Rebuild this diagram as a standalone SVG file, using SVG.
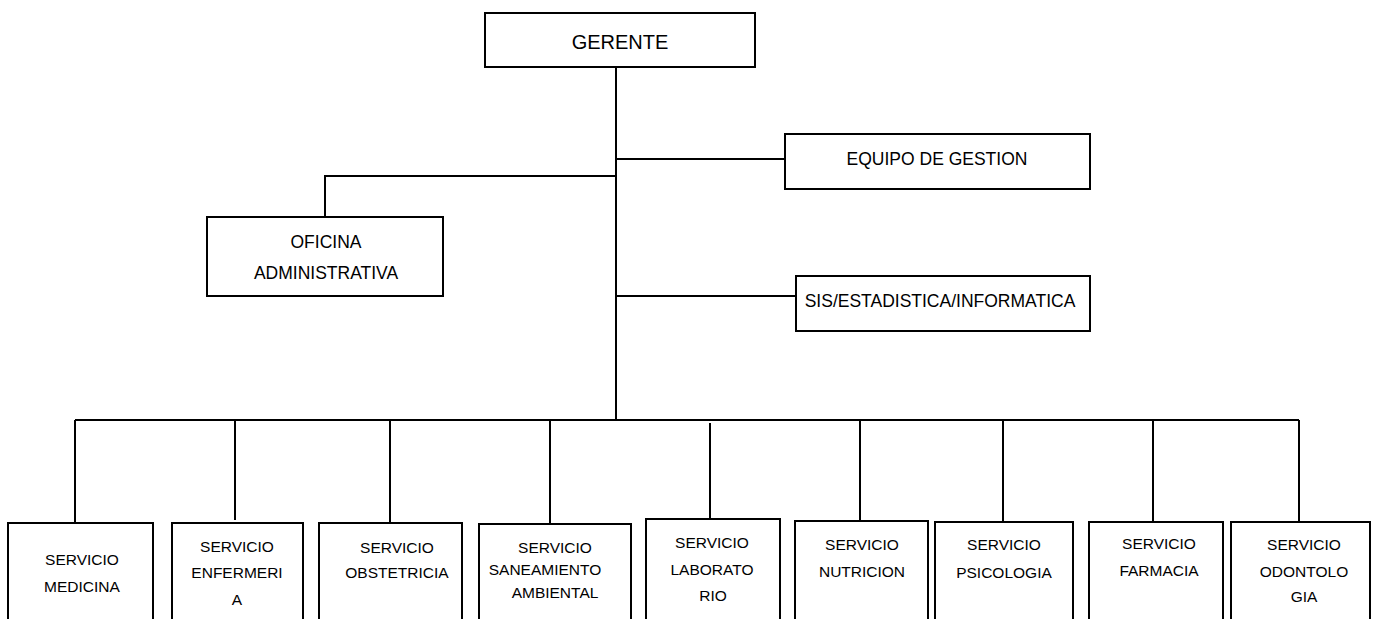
<svg xmlns="http://www.w3.org/2000/svg" width="1377" height="619" viewBox="0 0 1377 619">
<style>
.box{fill:#fff;stroke:#000;stroke-width:2}
.ln{fill:none;stroke:#000;stroke-width:2}
text{font-family:"Liberation Sans",Arial,sans-serif;fill:#000;text-anchor:middle}
.t1{font-size:20px}
.t2{font-size:17.5px}
.t3{font-size:15.5px}
</style>
<rect width="1377" height="619" fill="#fff"/>
<g id="connectors">
<path class="ln" d="M616 67V420"/>
<path class="ln" d="M616 159H785"/>
<path class="ln" d="M616 176H325V217"/>
<path class="ln" d="M616 296H796"/>
<path class="ln" d="M75 420H1299"/>
<path class="ln" d="M75 420V523"/>
<path class="ln" d="M235 420V520"/>
<path class="ln" d="M390 420V523"/>
<path class="ln" d="M550 420V524"/>
<path class="ln" d="M710 423V519"/>
<path class="ln" d="M860 420V521"/>
<path class="ln" d="M1003 420V522"/>
<path class="ln" d="M1153 420V522"/>
<path class="ln" d="M1299 420V522"/>
</g>
<g id="gerente"><rect class="box" x="485" y="13" width="270" height="54"/><text class="t1" x="620" y="49">GERENTE</text></g>
<g id="equipo"><rect class="box" x="785" y="134" width="305" height="55"/><text class="t2" x="937" y="165">EQUIPO DE GESTION</text></g>
<g id="oficina"><rect class="box" x="207" y="217" width="236" height="79"/><text class="t2" x="326" y="248">OFICINA</text><text class="t2" x="326" y="279">ADMINISTRATIVA</text></g>
<g id="sis"><rect class="box" x="796" y="276" width="294" height="55"/><text class="t2" x="940" y="307">SIS/ESTADISTICA/INFORMATICA</text></g>
<g id="medicina"><rect class="box" x="8" y="523" width="145" height="110"/><text class="t3" x="82" y="565">SERVICIO</text><text class="t3" x="82" y="592">MEDICINA</text></g>
<g id="enfermeria"><rect class="box" x="172" y="523" width="131" height="110"/><text class="t3" x="237" y="552">SERVICIO</text><text class="t3" x="237" y="578">ENFERMERI</text><text class="t3" x="237" y="605">A</text></g>
<g id="obstetricia"><rect class="box" x="319" y="523" width="143" height="110"/><text class="t3" x="397" y="553">SERVICIO</text><text class="t3" x="397" y="578">OBSTETRICIA</text></g>
<g id="saneamiento"><rect class="box" x="479" y="524" width="152" height="110"/><text class="t3" x="555" y="553">SERVICIO</text><text class="t3" x="545" y="575">SANEAMIENTO</text><text class="t3" x="555" y="598">AMBIENTAL</text></g>
<g id="laboratorio"><rect class="box" x="646" y="519" width="134" height="110"/><text class="t3" x="712" y="548">SERVICIO</text><text class="t3" x="712" y="575">LABORATO</text><text class="t3" x="713" y="601">RIO</text></g>
<g id="nutricion"><rect class="box" x="795" y="521" width="133" height="110"/><text class="t3" x="862" y="550">SERVICIO</text><text class="t3" x="862" y="577">NUTRICION</text></g>
<g id="psicologia"><rect class="box" x="935" y="522" width="138" height="110"/><text class="t3" x="1004" y="550">SERVICIO</text><text class="t3" x="1004" y="578">PSICOLOGIA</text></g>
<g id="farmacia"><rect class="box" x="1089" y="522" width="134" height="110"/><text class="t3" x="1159" y="549">SERVICIO</text><text class="t3" x="1159" y="576">FARMACIA</text></g>
<g id="odontologia"><rect class="box" x="1231" y="522" width="139" height="110"/><text class="t3" x="1304" y="550">SERVICIO</text><text class="t3" x="1304" y="577">ODONTOLO</text><text class="t3" x="1304" y="602">GIA</text></g>
</svg>
